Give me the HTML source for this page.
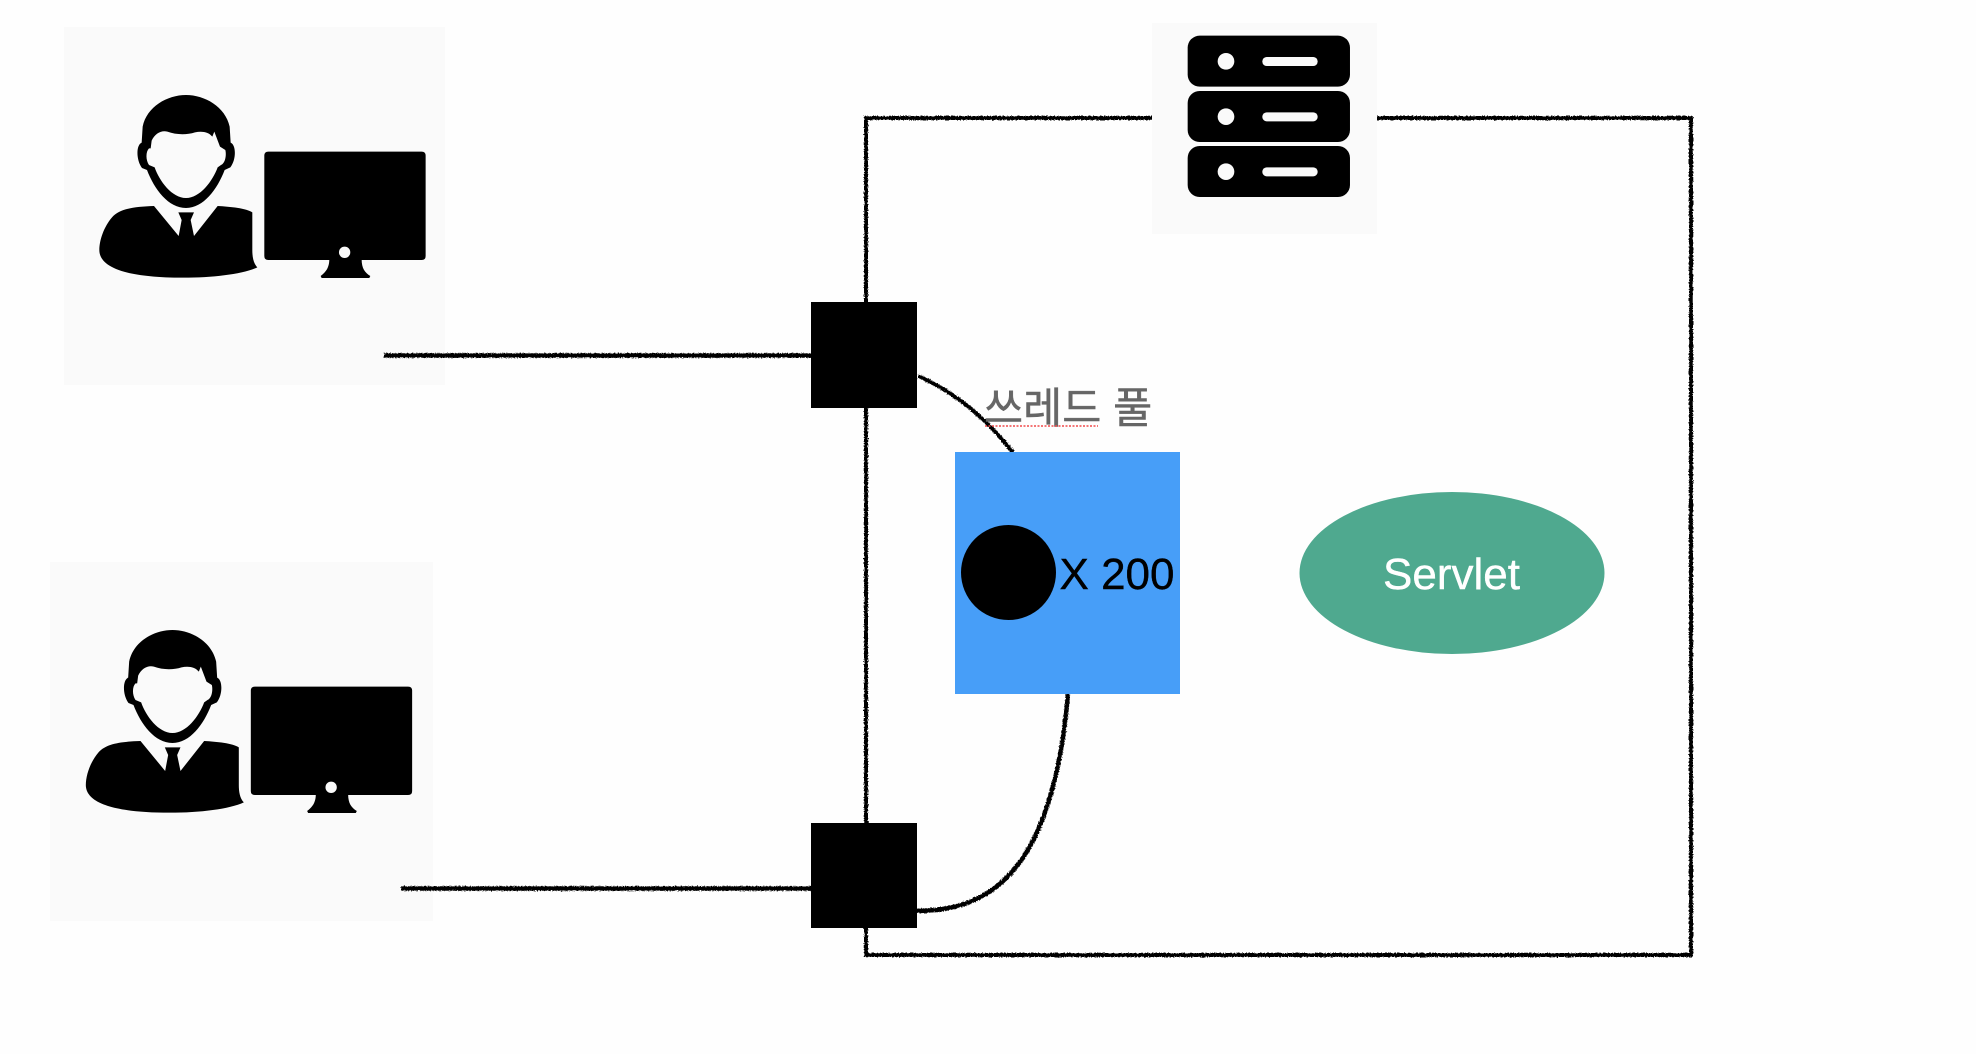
<!DOCTYPE html>
<html><head><meta charset="utf-8"><style>
html,body{margin:0;padding:0;background:#fefefe;width:1976px;height:1054px;overflow:hidden}
svg{display:block}
text{font-family:"Liberation Sans","Noto Sans CJK KR",sans-serif}
</style></head><body>
<svg width="1976" height="1054" viewBox="0 0 1976 1054" xmlns="http://www.w3.org/2000/svg">
<defs>
<filter id="rough" filterUnits="userSpaceOnUse" x="0" y="0" width="1976" height="1054">
<feTurbulence type="fractalNoise" baseFrequency="0.7" numOctaves="2" seed="4" result="n"/>
<feDisplacementMap in="SourceGraphic" in2="n" scale="3.2" xChannelSelector="R" yChannelSelector="G"/>
</filter>
<g id="person" transform="translate(80 80) scale(0.3333)">
<path fill="#000" d="M553 227Q553 215 565 215H1025Q1037 215 1037 227V528Q1037 540 1025 540H565Q553 540 553 528Z"/>
<path fill="#000" d="M748 538C748 565 735 578 722 588L725 594H868L871 588C855 578 845 565 845 538Z"/>
<ellipse cx="794" cy="517" rx="17" ry="17" fill="#fafafa"/>
<path fill="#000" d="M222 378C165 380 120 385 96 412C72 440 58 480 58 510C58 552 110 593 310 593C400 593 490 582 532 562C520 550 517 530 517 510V397C500 385 450 380 413 378L342 468L332 420L342 397H295L305 420L296 468Z"/>
<path fill="#000" d="M318 45C262 45 200 80 188 140L185 188C168 195 168 240 186 264L201 270C223 328 265 384 318 384C370 384 412 328 434 270L451 262C469 240 469 195 452 188L449 140C436 80 374 45 318 45Z"/>
<path fill="#fafafa" d="M215 182C225 160 245 150 262 155C290 165 320 165 345 157C365 153 385 155 397 170L403 155L420 200L436 210C440 225 436 250 423 255L413 262C398 303 360 354 318 354C276 354 238 303 224 262L207 255C197 240 197 215 207 205L212 205Z"/>
</g>
<g id="srv">
<rect x="113" y="62" width="487" height="153" rx="36" fill="#000"/>
<circle cx="228" cy="139" r="25" fill="#fafafa"/>
<rect x="337" y="126" width="166" height="27" rx="13" fill="#fafafa"/>
</g>
</defs>

<rect width="1976" height="1054" fill="#fefefe"/>
<rect x="64" y="27" width="381" height="358" fill="#fafafa"/>
<rect x="50" y="562" width="383" height="359" fill="#fafafa"/>

<use href="#person"/>
<use href="#person" transform="translate(-13.5 535)"/>

<g filter="url(#rough)" fill="none" stroke="#000">
<path d="M866 118H1691V955H866Z" stroke-width="4"/>
<path d="M384 355.500H815" stroke-width="4.500"/>
<path d="M401 888.500H815" stroke-width="4.500"/>
<path d="M918 376C955 392 988 420 1015 455" stroke-width="4"/>
<path d="M915 911C985 911 1052 880 1068 694" stroke-width="4.500"/>
</g>

<rect x="1152" y="23" width="225" height="211" fill="#fafafa"/>
<g transform="translate(1150 15) scale(0.3333)">
<use href="#srv"/>
<use href="#srv" y="166"/>
<use href="#srv" y="331"/>
</g>

<rect x="811" y="302" width="106" height="106" fill="#000"/>
<rect x="811" y="823" width="106" height="105" fill="#000"/>

<text x="984" y="423" font-size="42.500" fill="#666" stroke="#666" stroke-width="0.500">쓰레드 풀</text>
<path d="M985 426H1098" stroke="#f0484a" stroke-width="1.500" stroke-dasharray="2 1.500" fill="none"/>

<rect x="955" y="452" width="225" height="242" fill="#479ef8"/>
<circle cx="1008.500" cy="572.500" r="47.500" fill="#000"/>
<text x="1059.500" y="589" font-size="44" fill="#000" stroke="#000" stroke-width="0.400">X 200</text>

<ellipse cx="1452" cy="573" rx="152.500" ry="81" fill="#4fa98f"/>
<text x="1383" y="589" font-size="44" fill="#fff" stroke="#fff" stroke-width="0.400">Servlet</text>
</svg>
</body></html>
